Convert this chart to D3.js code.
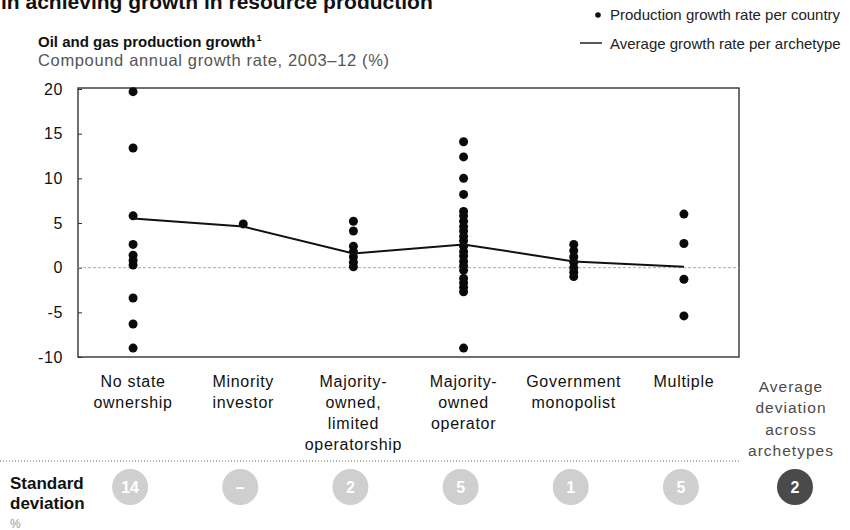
<!DOCTYPE html>
<html><head><meta charset="utf-8">
<script src="https://cdn.jsdelivr.net/npm/d3@7"></script>
<style>
body{margin:0;background:#fff;}
text{font-family:"Liberation Sans",Arial,sans-serif;}
</style></head>
<body><svg id="c" width="850" height="530"></svg>
<script>
const categories = ["No state ownership","Minority investor","Majority-owned, limited operatorship","Majority-owned operator","Government monopolist","Multiple"];
const categoryLines = [["No state","ownership"],["Minority","investor"],["Majority-","owned,","limited","operatorship"],["Majority-","owned","operator"],["Government","monopolist"],["Multiple"]];
const countryValues = [
  [19.7,13.4,5.8,2.6,1.4,0.8,0.3,-3.4,-6.3,-9.0],
  [4.9],
  [5.2,4.1,2.4,1.8,1.2,0.6,0.1],
  [14.1,12.4,10.0,8.2,6.3,5.8,5.2,4.6,4.1,3.5,3.0,2.4,1.8,1.3,0.7,0.2,-0.3,-1.2,-1.7,-2.2,-2.7,-9.0],
  [2.6,1.9,1.2,0.6,0.0,-0.5,-1.0],
  [6.0,2.7,-1.3,-5.4]
];
const averageValues = [5.5,4.6,1.6,2.6,0.7,0.1];
const stdDevLabels = ["14","–","2","5","1","5"];
const avgDeviationLabel = "2";
const yTicks = [20,15,10,5,0,-5,-10];

const svg = d3.select("#c");
const L=78,R=739,T=88,B=357;
const x = d3.scalePoint().domain(categories).range([L,R]).padding(0.5);
const y = d3.scaleLinear().domain([-10,20]).range([357,89]);

// top (cut-off) title
svg.append("text").attr("x",1).attr("y",9).attr("font-size",21).attr("font-weight","bold").attr("fill","#111")
  .text("in achieving growth in resource production");

// chart title
const t = svg.append("text").attr("x",38).attr("y",47).attr("font-size",15).attr("font-weight","bold").attr("fill","#111");
t.append("tspan").text("Oil and gas production growth");
t.append("tspan").attr("font-size",9).attr("dy",-6).attr("dx",1).text("1");
svg.append("text").attr("x",38).attr("y",66).attr("font-size",16.5).attr("fill","#555").attr("letter-spacing",0.65)
  .text("Compound annual growth rate, 2003–12 (%)");

// legend
svg.append("circle").attr("cx",598).attr("cy",15).attr("r",2.8).attr("fill","#111");
svg.append("text").attr("x",610).attr("y",20).attr("font-size",15).attr("fill","#222").text("Production growth rate per country");
svg.append("line").attr("x1",580).attr("x2",602).attr("y1",43).attr("y2",43).attr("stroke","#222").attr("stroke-width",1.5);
svg.append("text").attr("x",610).attr("y",49).attr("font-size",15).attr("fill","#222").text("Average growth rate per archetype");

// frame
svg.append("rect").attr("x",L).attr("y",T).attr("width",R-L).attr("height",B-T).attr("fill","none").attr("stroke","#333").attr("stroke-width",1.4);

// y axis
const yAxis = d3.axisLeft(y).tickValues(yTicks).tickSize(-4).tickPadding(15).tickFormat(d=>String(d));
const ga = svg.append("g").attr("transform",`translate(${L},0)`).call(yAxis);
ga.select(".domain").remove();
ga.selectAll("line").attr("stroke","#333");
ga.selectAll("text").attr("font-size",16).attr("fill","#111").attr("letter-spacing",0.6).attr("font-family","Liberation Sans, Arial, sans-serif");

// zero line
svg.append("line").attr("x1",L).attr("x2",R).attr("y1",y(0)).attr("y2",y(0)).attr("stroke","#aaa").attr("stroke-width",1).attr("stroke-dasharray","3,2");

// dots
categories.forEach((c,i)=>{
  svg.append("g").selectAll("circle").data(countryValues[i]).join("circle")
    .attr("cx",x(c)).attr("cy",d=>y(d)).attr("r",4.5).attr("fill","#0a0a0a");
});

// average line
const line = d3.line().x((d,i)=>x(categories[i])).y(d=>y(d));
svg.append("path").datum(averageValues).attr("d",line).attr("fill","none").attr("stroke","#111").attr("stroke-width",2);

// category labels
categories.forEach((c,i)=>{
  const tx = svg.append("text").attr("x",x(c)).attr("y",387).attr("text-anchor","middle").attr("font-size",16).attr("letter-spacing",0.7).attr("fill","#111");
  categoryLines[i].forEach((ln,j)=>tx.append("tspan").attr("x",x(c)).attr("dy",j?21:0).text(ln));
});
const avgX = 791;
const at = svg.append("text").attr("x",avgX).attr("y",392).attr("text-anchor","middle").attr("font-size",15.5).attr("fill","#4a4a4a")
  .attr("font-family","DejaVu Sans, sans-serif").attr("letter-spacing",1);
["Average","deviation","across","archetypes"].forEach((ln,j)=>at.append("tspan").attr("x",avgX).attr("dy",j?21.3:0).text(ln));

// dotted separator
svg.append("line").attr("x1",0).attr("x2",R).attr("y1",461).attr("y2",461).attr("stroke","#666").attr("stroke-width",1).attr("stroke-dasharray","1,2");

// std dev row
const sd = svg.append("text").attr("x",10).attr("y",489).attr("font-size",17).attr("font-weight","bold").attr("fill","#111");
sd.append("tspan").attr("x",10).text("Standard");
sd.append("tspan").attr("x",10).attr("dy",20).text("deviation");
svg.append("text").attr("x",10).attr("y",528).attr("font-size",12).attr("fill","#999").text("%");

categories.forEach((c,i)=>{
  const cx = x(c)-3;
  svg.append("circle").attr("cx",cx).attr("cy",487).attr("r",18).attr("fill","#cfcfcf");
  svg.append("text").attr("x",cx).attr("y",493).attr("text-anchor","middle").attr("font-size",16).attr("font-weight","bold").attr("fill","#fff").text(stdDevLabels[i]);
});
svg.append("circle").attr("cx",avgX+4).attr("cy",487).attr("r",18).attr("fill","#4a4a4a");
svg.append("text").attr("x",avgX+4).attr("y",493).attr("text-anchor","middle").attr("font-size",16).attr("font-weight","bold").attr("fill","#fff").text(avgDeviationLabel);
</script></body></html>
